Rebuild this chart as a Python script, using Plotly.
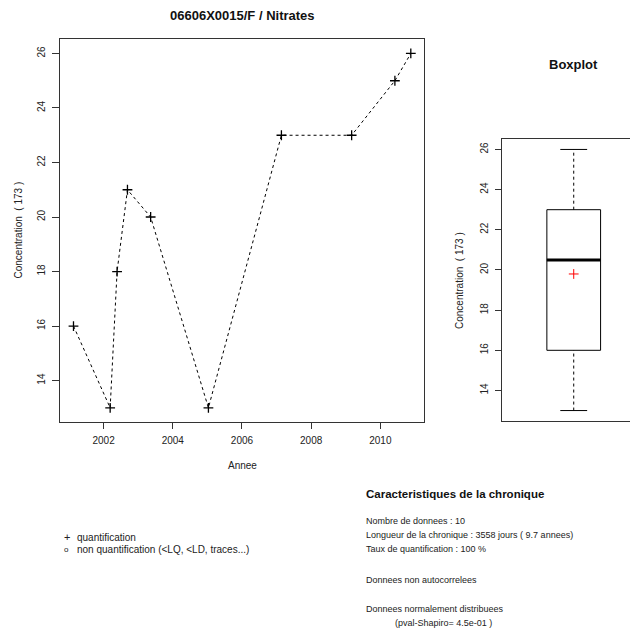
import math
import plotly.graph_objects as go

# ---- data ----
annees = [2001.13, 2002.19, 2002.39, 2002.69, 2003.36, 2005.03, 2007.14, 2009.17, 2010.42, 2010.88]
concentrations = [16, 13, 18, 21, 20, 13, 23, 23, 25, 26]
x_ticks = [2002, 2004, 2006, 2008, 2010]
y_ticks = [14, 16, 18, 20, 22, 24, 26]

titre = "06606X0015/F / Nitrates"
titre_box = "Boxplot"
label_y = "Concentration  ( 173 )"
label_x = "Annee"
carac_titre = "Caracteristiques de la chronique"
carac_lignes = [
    "Nombre de donnees : 10",
    "Longueur de la chronique : 3558 jours ( 9.7 annees)",
    "Taux de quantification : 100 %",
    "Donnees non autocorrelees",
    "Donnees normalement distribuees",
    "(pval-Shapiro= 4.5e-01 )",
]
legende = ["quantification", "non quantification (<LQ, <LD, traces...)"]

# page body has an 8px margin: figure sits at (8, 8) in the window
OFF = 8
W, H = 638 - OFF, 632 - OFF
FONT = "Liberation Sans, Arial, sans-serif"
INK = "#222"
FRAME = "#333"


def px(x):
    return (x - OFF) / W


def py(y):
    return 1 - (y - OFF) / H


def fivenum(v):
    s = sorted(v)
    n = len(s)
    n4 = math.floor((n + 3) / 2) / 2
    d = [1, n4, (n + 1) / 2, n + 1 - n4, n]
    return [0.5 * (s[math.floor(di - 1)] + s[math.ceil(di - 1)]) for di in d]


mn, q1, med, q3, mx = fivenum(concentrations)
moyenne = sum(concentrations) / len(concentrations)


def ext_range(v, f=0.04):
    lo, hi = min(v), max(v)
    d = (hi - lo) * f
    return [lo - d, hi + d]


fig = go.Figure()

# time series
fig.add_trace(go.Scatter(
    x=annees, y=concentrations, mode="lines+markers",
    line=dict(color="black", width=1, dash="3px,3px"),
    marker=dict(symbol="cross-thin", size=7, color="black", line=dict(color="black", width=1.3)),
    xaxis="x", yaxis="y", showlegend=False, hoverinfo="x+y",
))

# boxplot
BW = 0.376
fig.add_trace(go.Box(
    x=[1], q1=[q1], median=[med], q3=[q3], lowerfence=[q1], upperfence=[q3],
    width=BW, whiskerwidth=0, fillcolor="white", orientation="v",
    line=dict(color="black", width=1), boxpoints=False,
    xaxis="x2", yaxis="y2", showlegend=False,
))
fig.add_trace(go.Scatter(
    x=[1, 1, None, 1, 1], y=[q3, mx, None, mn, q1], mode="lines",
    line=dict(color="black", width=1, dash="3px,3px"),
    xaxis="x2", yaxis="y2", showlegend=False, hoverinfo="skip",
))
fig.add_trace(go.Scatter(
    x=[1 - BW / 4, 1 + BW / 4, None, 1 - BW / 4, 1 + BW / 4], y=[mx, mx, None, mn, mn], mode="lines",
    line=dict(color="black", width=1),
    xaxis="x2", yaxis="y2", showlegend=False, hoverinfo="skip",
))
fig.add_trace(go.Scatter(
    x=[1 - BW / 2, 1 + BW / 2], y=[med, med], mode="lines",
    line=dict(color="black", width=3),
    xaxis="x2", yaxis="y2", showlegend=False, hoverinfo="skip",
))
fig.add_trace(go.Scatter(
    x=[1], y=[moyenne], mode="markers",
    marker=dict(symbol="cross-thin", size=7, color="red", line=dict(color="red", width=1)),
    xaxis="x2", yaxis="y2", showlegend=False,
))

axis_common = dict(showgrid=False, zeroline=False, showline=True, linecolor=FRAME, linewidth=1,
                   ticks="outside", tickcolor=FRAME, tickwidth=1, ticklabelstandoff=3,
                   tickfont=dict(family=FONT, size=10, color=INK))

fig.update_layout(
    width=W, height=H, margin=dict(l=0, r=0, t=0, b=0),
    paper_bgcolor="white", plot_bgcolor="white",
    font=dict(family=FONT, color=INK),
    xaxis=dict(domain=[px(60), px(424.3)], range=ext_range(annees), tickvals=x_ticks,
               mirror=True, ticklen=6, anchor="y", **axis_common),
    yaxis=dict(domain=[py(422), py(39.3)], range=ext_range(concentrations), tickvals=y_ticks,
               mirror=True, ticklen=7, tickangle=-90, anchor="x", **axis_common),
    xaxis2=dict(domain=[px(502.3), 1], range=[0.5, 1.45], showticklabels=False,
                mirror=True, anchor="y2", showgrid=False, zeroline=False, showline=True,
                linecolor=FRAME, linewidth=1, ticks=""),
    yaxis2=dict(domain=[py(421), py(139)], range=ext_range(concentrations), tickvals=y_ticks,
                mirror=False, ticklen=6, tickangle=-90, anchor="x2", **axis_common),
)

ann = []


def add_text(text, x, y, size, bold=False, xanchor="left", angle=0, color=INK):
    ann.append(dict(
        text=f"<b>{text}</b>" if bold else text, x=px(x), y=py(y), xref="paper", yref="paper",
        showarrow=False, xanchor=xanchor, yanchor="middle", textangle=angle,
        font=dict(family=FONT, size=size, color=color),
    ))


add_text(titre, 242, 16, 13, bold=True, xanchor="center", color="#111")
add_text(titre_box, 573.7, 64, 13, bold=True, xanchor="center", color="#111")
add_text(label_x, 242, 466, 10, xanchor="center")
add_text(label_y, 18, 230.5, 10, xanchor="center", angle=-90)
add_text(label_y, 459, 281, 10, xanchor="center", angle=-90)

add_text(carac_titre, 364, 494, 11.5, bold=True, color="#111")
for txt, yy in zip(carac_lignes, [521, 535, 549, 580, 609, 623]):
    xx = 393 if txt.startswith("(pval") else 364
    add_text(txt, xx, yy, 9)

add_text("+", 66.5, 537, 11, xanchor="center")
add_text("o", 66.5, 549, 8, xanchor="center")
add_text(legende[0], 75, 537, 10)
add_text(legende[1], 75, 549, 10)

fig.update_layout(annotations=ann)

fig.write_html("out.html")
